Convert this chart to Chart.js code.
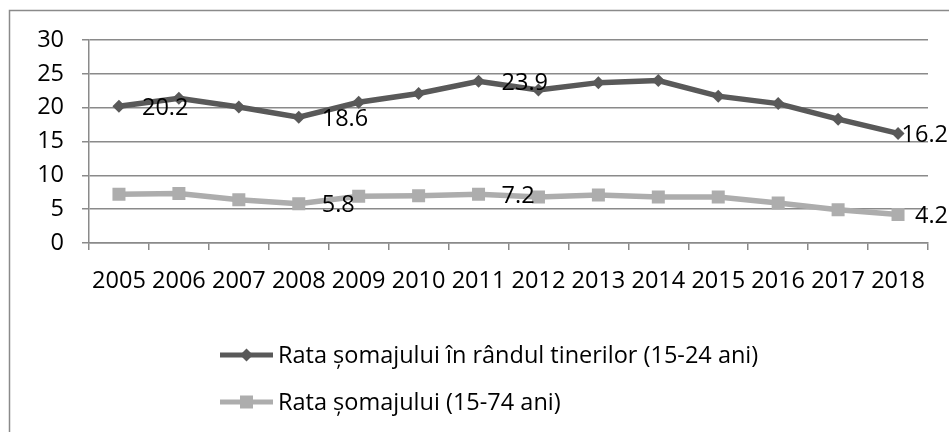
<!DOCTYPE html>
<html>
<head>
<meta charset="utf-8">
<script src="https://cdn.jsdelivr.net/npm/chart.js@4.4.1/dist/chart.umd.min.js"></script>
<style>
  html, body { margin: 0; padding: 0; background: #fff; }
  #wrap { width: 949px; height: 432px; position: relative; }
</style>
</head>
<body>
<div id="wrap"><canvas id="c" width="949" height="432"></canvas></div>
<script>
const years = ['2005','2006','2007','2008','2009','2010','2011','2012','2013','2014','2015','2016','2017','2018'];
const youthRate = [20.2, 21.4, 20.1, 18.6, 20.8, 22.1, 23.9, 22.6, 23.7, 24.0, 21.7, 20.6, 18.3, 16.2];
const totalRate = [7.2, 7.3, 6.4, 5.8, 6.9, 7.0, 7.2, 6.8, 7.1, 6.8, 6.8, 5.9, 4.9, 4.2];
const youthLabelIdx = [0, 3, 6, 13];
const totalLabelIdx = [3, 6, 13];
const seriesNames = ['Rata șomajului în rândul tinerilor (15-24 ani)', 'Rata șomajului (15-74 ani)'];
const yTicks = [0, 5, 10, 15, 20, 25, 30];

const FONT = "'Open Sans', 'Liberation Sans', sans-serif";
const FSIZE = 23.5;
const GRID = '#8a8a8a';

const borderPlugin = {
  id: 'outerBorder',
  beforeDraw(chart) {
    const ctx = chart.ctx;
    ctx.save();
    ctx.strokeStyle = '#8a8a8a';
    ctx.lineWidth = 1.5;
    ctx.strokeRect(9.5, 10.5, chart.width + 20, chart.height + 20);
    ctx.restore();
  }
};

const labelPlugin = {
  id: 'pointLabels',
  afterDatasetsDraw(chart) {
    const ctx = chart.ctx;
    const lists = [youthLabelIdx, totalLabelIdx];
    ctx.save();
    ctx.font = FSIZE + 'px ' + FONT;
    ctx.fillStyle = '#000';
    ctx.textAlign = 'left';
    ctx.textBaseline = 'middle';
    chart.data.datasets.forEach((ds, di) => {
      const meta = chart.getDatasetMeta(di);
      lists[di].forEach(i => {
        const p = meta.data[i];
        const txt = ds.data[i].toFixed(1);
        const w = ctx.measureText(txt).width;
        const x = Math.min(p.x + 23, chart.width - 1 - w);
        ctx.fillText(txt, x, p.y + 2);
      });
    });
    ctx.restore();
  }
};

const legendPlugin = {
  id: 'vLegend',
  afterDraw(chart) {
    const ctx = chart.ctx;
    const rows = [355, 402];
    ctx.save();
    chart.data.datasets.forEach((ds, di) => {
      const y = rows[di];
      ctx.strokeStyle = ds.borderColor;
      ctx.lineWidth = 5;
      ctx.beginPath();
      ctx.moveTo(220, y);
      ctx.lineTo(273, y);
      ctx.stroke();
      ctx.fillStyle = ds.pointBackgroundColor;
      if (ds.pointStyle === 'rectRot') {
        const r = 6.5;
        ctx.beginPath();
        ctx.moveTo(246.5, y - r); ctx.lineTo(246.5 + r, y); ctx.lineTo(246.5, y + r); ctx.lineTo(246.5 - r, y);
        ctx.closePath(); ctx.fill();
      } else {
        ctx.fillRect(246.5 - 6.5, y - 6.5, 13, 13);
      }
      ctx.fillStyle = '#000';
      ctx.font = FSIZE + 'px ' + FONT;
      ctx.textAlign = 'left';
      ctx.textBaseline = 'middle';
      ctx.fillText(ds.label, 278, y + 1);
    });
    ctx.restore();
  }
};

new Chart(document.getElementById('c'), {
  type: 'line',
  data: {
    labels: years,
    datasets: [
      {
        label: seriesNames[0],
        data: youthRate,
        borderColor: '#595959',
        backgroundColor: '#595959',
        pointBackgroundColor: '#595959',
        pointBorderColor: '#595959',
        borderWidth: 5.5,
        pointStyle: 'rectRot',
        pointRadius: 6.5,
        pointBorderWidth: 0,
        tension: 0
      },
      {
        label: seriesNames[1],
        data: totalRate,
        borderColor: '#adadad',
        backgroundColor: '#adadad',
        pointBackgroundColor: '#adadad',
        pointBorderColor: '#adadad',
        borderWidth: 5.5,
        pointStyle: 'rect',
        pointRadius: 9.2,
        pointBorderWidth: 0,
        tension: 0
      }
    ]
  },
  options: {
    responsive: false,
    animation: false,
    devicePixelRatio: 1,
    layout: { padding: { top: 40, right: 21, left: 0, bottom: 0 } },
    plugins: {
      legend: { display: false },
      tooltip: { enabled: false }
    },
    scales: {
      x: {
        offset: true,
        grid: { offset: true, drawOnChartArea: false, drawTicks: true, tickLength: 7, color: GRID, lineWidth: 1.5 },
        border: { color: GRID, width: 1.5 },
        ticks: { color: '#000', font: { family: FONT, size: FSIZE }, padding: 17, autoSkip: false, maxRotation: 0, minRotation: 0 },
        afterFit(s) { s.height = 189; }
      },
      y: {
        min: 0, max: 30,
        afterBuildTicks(s) { s.ticks = yTicks.map(v => ({ value: v })); },
        grid: { color: GRID, lineWidth: 1.5, tickLength: 7, drawTicks: true },
        border: { color: GRID, width: 1.5 },
        ticks: { color: '#000', font: { family: FONT, size: FSIZE }, padding: 18 },
        afterFit(s) { s.width = 89; }
      }
    }
  },
  plugins: [borderPlugin, labelPlugin, legendPlugin]
});
</script>
</body>
</html>
